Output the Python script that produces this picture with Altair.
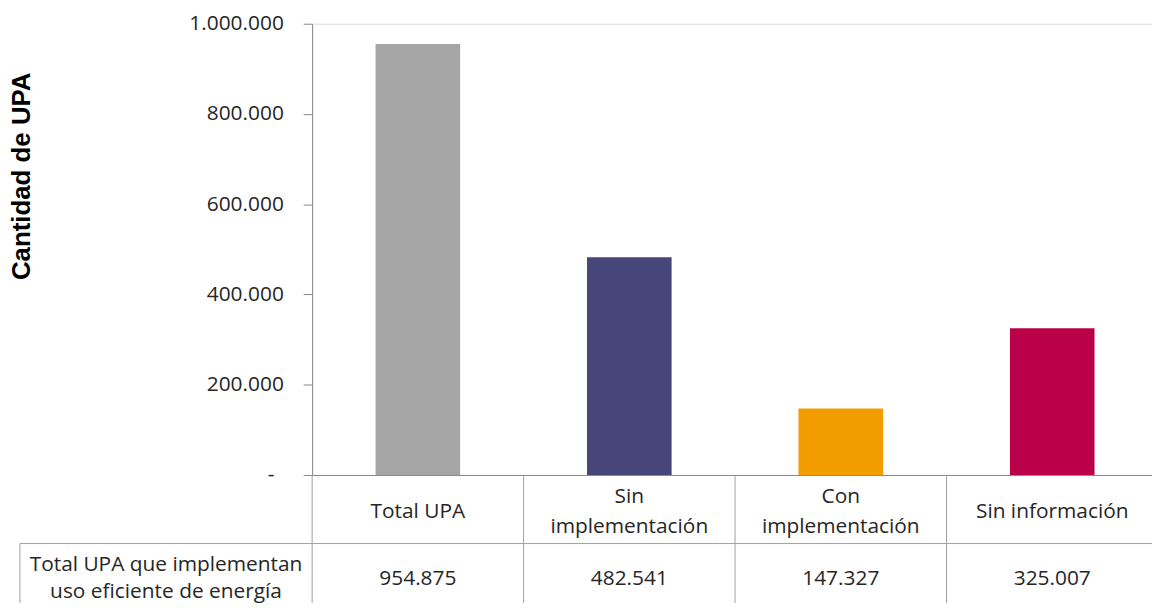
import altair as alt
import pandas as pd

categories = ["Total UPA", "Sin implementación", "Con implementación", "Sin información"]
cat_labels = ["Total UPA", "Sin\nimplementación", "Con\nimplementación", "Sin información"]
values = [954875, 482541, 147327, 325007]
colors = ["#A5A5A5", "#46467A", "#F29C00", "#BA0049"]
y_ticks = [0, 200000, 400000, 600000, 800000, 1000000]
y_title = "Cantidad de UPA"
row_header = "Total UPA que implementan\nuso eficiente de energía"
zero_label = "-"

df = pd.DataFrame({
    "cat": categories,
    "label": cat_labels,
    "value": values,
    "value_txt": [f"{v:,}".replace(",", ".") for v in values],
})
df["lines"] = df["label"].str.count("\n") + 1
hdr = pd.DataFrame({"txt": [row_header]})
zero_df = pd.DataFrame({"v": [0], "t": [zero_label]})

W, H = 845, 454
XR = 851  # band range extends slightly past the visible edge, as in the reference
FONT = "Open Sans"
TXT = "#262626"
LINE = "#A0A0A0"
AX = "#868686"

x_enc = alt.X("cat:N", sort=categories,
              scale=alt.Scale(paddingInner=0, paddingOuter=0, range=[0, XR]),
              axis=alt.Axis(labels=False, ticks=False, domain=True,
                            domainColor=AX, domainWidth=1, title=None))

bars = alt.Chart(df).mark_bar(width=alt.RelativeBandSize(0.4)).encode(
    x=x_enc,
    y=alt.Y("value:Q",
            scale=alt.Scale(domain=[0, 1000000], nice=False),
            axis=alt.Axis(values=y_ticks, grid=False, tickSize=9, tickColor=AX,
                          domainColor=AX, labelFont=FONT, labelFontSize=21,
                          labelColor=TXT, labelPadding=20,
                          labelExpr="datum.value == 0 ? '' : replace(replace(format(datum.value, ','), ',', '.'), ',', '.')",
                          title=y_title, titleFont="Liberation Sans",
                          titleFontSize=26, titleFontWeight="bold",
                          titleColor="#000000", titleX=-279, titleY=153,
                          titleAngle=270, titleBaseline="bottom", titleAlign="center")),
    color=alt.Color("cat:N", sort=categories,
                    scale=alt.Scale(domain=categories, range=colors), legend=None),
)

zero_txt = alt.Chart(zero_df).mark_text(font=FONT, fontSize=21, color=TXT,
                                        align="right", baseline="middle").encode(
    x=alt.value(-38),
    y=alt.Y("v:Q"),
    text="t:N",
)

vlines = alt.Chart(df).mark_rule(color=LINE, strokeWidth=1).encode(
    x=alt.X("cat:N", sort=categories, bandPosition=0),
    y=alt.value(H),
    y2=alt.value(H + 250),
)

hline = alt.Chart(hdr).mark_rule(color=LINE, strokeWidth=1).encode(
    x=alt.value(-294), x2=alt.value(W + 10), y=alt.value(523),
)
left_border = alt.Chart(hdr).mark_rule(color=LINE, strokeWidth=1).encode(
    x=alt.value(-294), y=alt.value(523), y2=alt.value(H + 250),
)

cat_one = alt.Chart(df).transform_filter("datum.lines == 1").mark_text(
    font=FONT, fontSize=21, color=TXT, baseline="middle", align="center").encode(
    x=alt.X("cat:N", sort=categories),
    y=alt.value(491),
    text="label:N",
)
cat_two = alt.Chart(df).transform_filter("datum.lines == 2").mark_text(
    font=FONT, fontSize=21, color=TXT, lineBreak="\n", lineHeight=30,
    baseline="middle", align="center").encode(
    x=alt.X("cat:N", sort=categories),
    y=alt.value(476),
    text="label:N",
)

val_text = alt.Chart(df).mark_text(font=FONT, fontSize=21, color=TXT,
                                   baseline="middle", align="center").encode(
    x=alt.X("cat:N", sort=categories),
    y=alt.value(559),
    text="value_txt:N",
)

hdr_text = alt.Chart(hdr).mark_text(font=FONT, fontSize=21, color=TXT,
                                    lineBreak="\n", lineHeight=27,
                                    baseline="middle", align="center").encode(
    x=alt.value(-147),
    y=alt.value(545),
    text="txt:N",
)

chart = alt.layer(bars, zero_txt, vlines, hline, left_border, cat_one, cat_two,
                  val_text, hdr_text).properties(
    width=W, height=H,
    autosize=alt.AutoSizeParams(type="none"),
    padding={"left": 306, "top": 14, "right": 0, "bottom": 127},
).configure_view(stroke=None).configure(background="white")

chart.save("out.html", embed_options={"renderer": "svg", "actions": False})
